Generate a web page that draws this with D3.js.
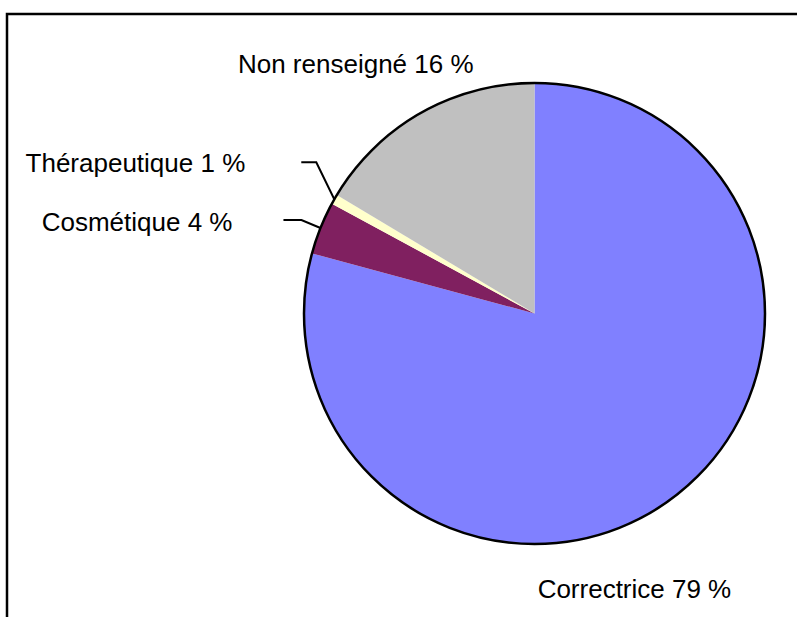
<!DOCTYPE html>
<html lang="fr">
<head>
    <meta charset="UTF-8">
    <title>Répartition par finalité</title>
    <script src="https://d3js.org/d3.v7.min.js"></script>
    <style>
        body {
            margin: 0;
            padding: 0;
            background: #fff;
            overflow: hidden;
        }
        .label {
            font-family: "Liberation Sans", Arial, sans-serif;
            font-size: 26px;
            fill: #000;
        }
        .leader {
            fill: none;
            stroke: #000;
            stroke-width: 2px;
        }
    </style>
</head>
<body>
    <script>
        // data (clockwise from 12 o'clock)
        const categories = ["Correctrice", "Cosmétique", "Thérapeutique", "Non renseigné"];
        const values = [79.2, 3.7, 0.7, 16.4];
        const colors = ["#8080ff", "#802060", "#ffffcc", "#c0c0c0"];

        // label layout, relative to the slice's outer point at mid angle
        const labelLayout = [
            { dx: -137, dy: 101, anchor: "start", leader: null },
            { dx: -88, dy: 3, anchor: "end", leader: [[-19, -8], [-37, -8]] },
            { dx: -89, dy: -27, anchor: "end", leader: [[-18, -37], [-33, -37]] },
            { dx: -183, dy: -40, anchor: "start", leader: null }
        ];

        const width = 797, height = 617;
        const cx = 534.5, cy = 313.5, radius = 230.5;

        const svg = d3.select("body").append("svg")
            .attr("width", width)
            .attr("height", height);

        // chart frame (runs off the right and bottom edges)
        svg.append("rect")
            .attr("x", 7)
            .attr("y", 14)
            .attr("width", 820)
            .attr("height", 700)
            .attr("fill", "none")
            .attr("stroke", "#000")
            .attr("stroke-width", 2.5);

        const total = d3.sum(values);
        const pie = d3.pie().sort(null).value(d => d)(values);
        const arc = d3.arc().innerRadius(0).outerRadius(radius);

        const g = svg.append("g").attr("transform", `translate(${cx},${cy})`);

        g.selectAll(".slice")
            .data(pie)
            .enter()
            .append("path")
            .attr("class", "slice")
            .attr("d", arc)
            .attr("fill", (d, i) => colors[i]);

        // outline of the pie only
        g.append("circle")
            .attr("r", radius)
            .attr("fill", "none")
            .attr("stroke", "#000")
            .attr("stroke-width", 2.5);

        function edgePoint(d) {
            const a = (d.startAngle + d.endAngle) / 2;
            return [radius * Math.sin(a), -radius * Math.cos(a)];
        }

        // leader lines for the thin slices
        pie.forEach((d, i) => {
            const lay = labelLayout[i];
            if (!lay.leader) return;
            const p = edgePoint(d);
            const pts = [p].concat(lay.leader.map(o => [p[0] + o[0], p[1] + o[1]]));
            g.append("path")
                .attr("class", "leader")
                .attr("d", d3.line()(pts));
        });

        g.selectAll(".label")
            .data(pie)
            .enter()
            .append("text")
            .attr("class", "label")
            .attr("x", (d, i) => edgePoint(d)[0] + labelLayout[i].dx)
            .attr("y", (d, i) => edgePoint(d)[1] + labelLayout[i].dy)
            .attr("text-anchor", (d, i) => labelLayout[i].anchor)
            .text((d, i) => `${categories[i]} ${Math.round(values[i] / total * 100)} %`);
    </script>
</body>
</html>
